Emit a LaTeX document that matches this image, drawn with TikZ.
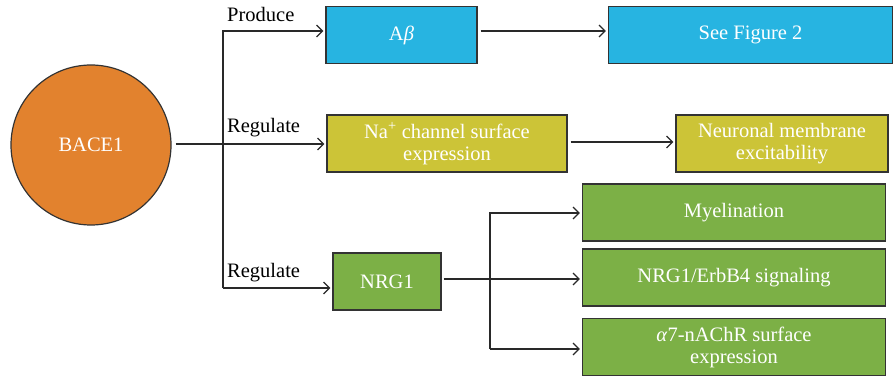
\documentclass[tikz,border=0pt]{standalone}
\usepackage{fontspec}
\setmainfont{Liberation Serif}
\usepackage{tikz}
\usetikzlibrary{arrows.meta}
\usepackage{xcolor}
\definecolor{mycyan}{HTML}{27B4E1}
\definecolor{myolive}{HTML}{CCC437}
\definecolor{mygreen}{HTML}{7CB046}
\definecolor{myorange}{HTML}{E2822E}
\definecolor{myborder}{HTML}{333333}
\tikzset{
  >={Straight Barb[length=6pt,width=12pt,line width=1.2pt]},
  basic/.style={draw=myborder,line width=1.2pt,text=white,align=center,inner sep=0,
                font=\fontsize{20.5}{22}\selectfont},
  box/.style={basic,rectangle,minimum height=57pt},
  box cyan/.style={box,fill=mycyan},
  box olive/.style={box,fill=myolive},
  box green/.style={box,fill=mygreen},
  enzyme/.style={basic,circle,fill=myorange,minimum size=160pt},
  connect/.style={line width=1.2pt,myborder!80!black},
  lbl/.style={anchor=base west,inner sep=0,font=\fontsize{20.5}{22}\selectfont}
}
\begin{document}
\begin{tikzpicture}[x=1pt,y=-1pt]
  \useasboundingbox (0,0) rectangle (894,377);
  % Draw enzyme node
  \node[enzyme] (bace) at (91,145) {BACE1};
  % Draw boxes of the three pathways
  \node[box cyan, minimum width=151pt] (abeta) at (401.5,35) {A\textit{β}};
  \node[box cyan, minimum width=284pt] (fig2) at (750.5,35) {See Figure 2};
  \node[box olive, minimum width=240pt] (nachan) at (447,143.5) {Na\textsuperscript{+} channel surface\\expression};
  \node[box olive, minimum width=212pt] (excit) at (782,143.5) {Neuronal membrane\\excitability};
  \node[box green, minimum width=108pt] (nrg) at (387,281.5) {NRG1};
  \node[box green, minimum width=303pt] (myel) at (734,212.5) {Myelination};
  \node[box green, minimum width=303pt] (erbb) at (734,277.5) {NRG1/ErbB4 signaling};
  \node[box green, minimum width=303pt] (nachr) at (734,347) {\textit{α}7-nAChR surface\\expression};
  % Branch points
  \coordinate (ttop) at (223,31);
  \coordinate (tbot) at (223,288);
  \coordinate (ntop) at (490,213);
  \coordinate (nbot) at (490,349);
  % Edges from BACE1
  \draw[connect,->,shorten <=4pt,shorten >=2pt] (bace.east |- 0,144) -- (nachan.west |- 0,144);
  \draw[connect,->,shorten >=2pt] (tbot) -- (ttop) -- (ttop -| abeta.west);
  \draw[connect,->,shorten >=2pt] (tbot) -- (tbot -| nrg.west);
  % Edges to the outcomes
  \draw[connect,->,shorten <=3pt,shorten >=2pt] (abeta.east |- ttop) -- (fig2.west |- ttop);
  \draw[connect,->,shorten <=3pt,shorten >=2pt] (nachan.east |- 0,142) -- (excit.west |- 0,142);
  \draw[connect,->,shorten <=2pt,shorten >=2pt] (nrg.east |- 0,279) -- (erbb.west |- 0,279);
  \draw[connect,->,shorten >=2pt] (nbot) -- (ntop) -- (ntop -| myel.west);
  \draw[connect,->,shorten >=2pt] (nbot) -- (nbot -| nachr.west);
  % Labels
  \node[lbl] (produce) at (227,22) {Produce};
  \node[lbl] (regulate1) at (227,133) {Regulate};
  \node[lbl] (regulate2) at (227,277) {Regulate};
\end{tikzpicture}
\end{document}
